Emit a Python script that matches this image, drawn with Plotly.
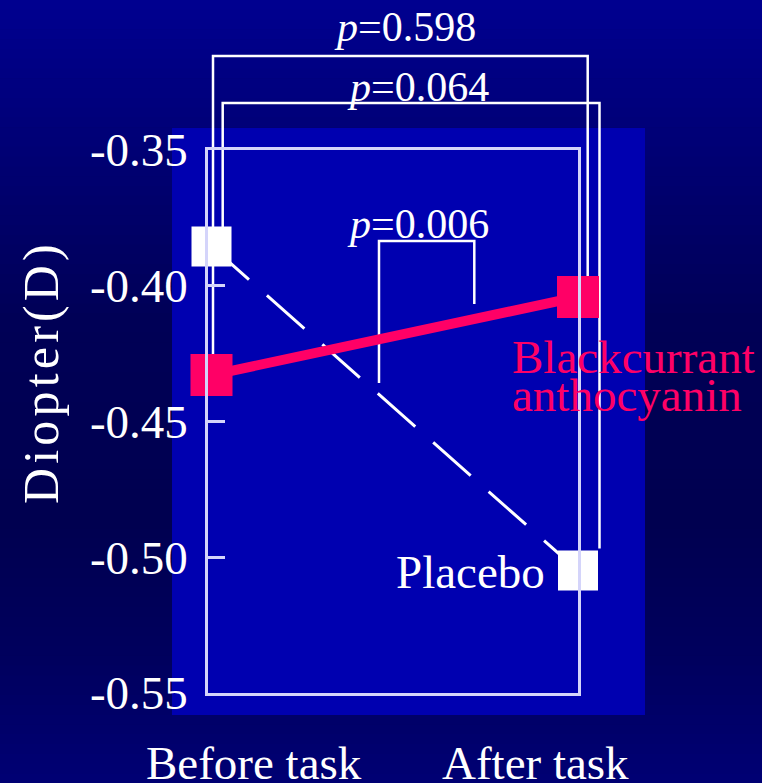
import plotly.graph_objects as go

# ---- data ----
categories = ["Before task", "After task"]
placebo = [-0.3855, -0.5049]
blackcurrant = [-0.4329, -0.4041]
y_tick_vals = [-0.55, -0.50, -0.45, -0.40, -0.35]
y_tick_text = ["-0.55", "-0.50", "-0.45", "-0.40", "-0.35"]
p_labels = ["0.598", "0.064", "0.006"]

W, H = 762, 783
L, R, T, B = 208, 578, 150, 693          # frame in pixels
X0, X1 = 211.5, 578.0                     # pixel centres of the two time points
s = X1 - X0
xr = [(L - X0) / s, (R - X0) / s]
FONT = "Liberation Serif, Times New Roman, serif"
PINK = "#FF0066"
FRAME = "#D4D4FA"


def px(x):
    return x / W


def py(y):
    return 1 - y / H


def ypix(v):
    return T + (-0.35 - v) / 0.20 * (B - T)


xs = [0, 1]
fig = go.Figure()
fig.add_trace(go.Scatter(
    x=xs, y=placebo, mode="lines+markers",
    line=dict(color="white", width=3, dash="50px,24px"),
    marker=dict(symbol="square", size=40, color="white"),
    cliponaxis=False, hoverinfo="skip"))
fig.add_trace(go.Scatter(
    x=xs, y=blackcurrant, mode="lines+markers",
    line=dict(color=PINK, width=10),
    marker=dict(symbol="square", size=42, color=PINK),
    cliponaxis=False, hoverinfo="skip"))

shapes = []
# background vertical gradient
stops = [(0, (0, 0, 0x90)), (150, (0, 0, 0x74)), (320, (0, 0, 0x56)),
         (520, (0, 0, 0x50)), (660, (0, 0, 0x5E)), (783, (0, 0, 0x74))]
n = 80
for i in range(n):
    y0 = H * i / n
    y1 = H * (i + 1) / n
    ym = (y0 + y1) / 2
    for j in range(len(stops) - 1):
        a, ca = stops[j]
        b, cb = stops[j + 1]
        if a <= ym <= b:
            t = (ym - a) / (b - a)
            c = tuple(int(round(ca[k] + (cb[k] - ca[k]) * t)) for k in range(3))
            break
    shapes.append(dict(type="rect", xref="paper", yref="paper", layer="below",
                       x0=0, x1=1, y0=py(y1 + 0.5), y1=py(y0),
                       line=dict(width=0), fillcolor="rgb(%d,%d,%d)" % c))
# inner blue panel
shapes.append(dict(type="rect", xref="paper", yref="paper", layer="below",
                   x0=px(172), x1=px(645), y0=py(715), y1=py(128),
                   line=dict(width=0), fillcolor="#0000B0"))


def bracket(xa, ya, ytop, xb, yb):
    path = "M %f,%f L %f,%f L %f,%f L %f,%f" % (
        px(xa), py(ya), px(xa), py(ytop), px(xb), py(ytop), px(xb), py(yb))
    return dict(type="path", xref="paper", yref="paper", layer="below", path=path,
                line=dict(color="white", width=2.5))


shapes.append(bracket(213, ypix(blackcurrant[0]) - 20, 56, 587.7, ypix(blackcurrant[1]) - 20))
shapes.append(bracket(222.7, ypix(placebo[0]) - 18, 103, 599.5, ypix(placebo[1]) - 22))
shapes.append(bracket(379, 383, 241, 474.3, 304))

annotations = []


def text(x, y, s_, size, color="white", xanchor="center", textangle=0):
    annotations.append(dict(xref="paper", yref="paper", x=px(x), y=py(y), text=s_,
                            showarrow=False, xanchor=xanchor, yanchor="middle",
                            textangle=textangle,
                            font=dict(family=FONT, size=size, color=color)))


text(405, 27, "<i>p</i>=" + p_labels[0], 42)
text(418, 87, "<i>p</i>=" + p_labels[1], 42)
text(418, 224, "<i>p</i>=" + p_labels[2], 42)
text(510, 357, "Blackcurrant", 47, PINK, "left")
text(510, 395, "anthocyanin", 47, PINK, "left")
text(547, 572, "Placebo", 47, "white", "right")
text(253.5, 763, categories[0], 47)
text(535, 763, categories[1], 47)
text(41, 374, "\u200a".join("Diopter(D)"), 50, "white", "center", -90)

fig.update_layout(
    width=W, height=H, margin=dict(l=0, r=0, t=0, b=0, autoexpand=False),
    paper_bgcolor="#000060", plot_bgcolor="rgba(0,0,0,0)",
    showlegend=False, shapes=shapes, annotations=annotations,
    xaxis=dict(domain=[px(L), px(R)], range=xr, showgrid=False, zeroline=False,
               showticklabels=False, ticks="", showline=True, mirror=True,
               linecolor=FRAME, linewidth=2.5, fixedrange=True),
    yaxis=dict(domain=[py(B), py(T)], range=[-0.55, -0.35], showgrid=False,
               zeroline=False, tickvals=y_tick_vals, ticktext=y_tick_text,
               ticks="inside", ticklen=17, tickwidth=2.5, tickcolor=FRAME,
               tickfont=dict(family=FONT, size=47, color="white"),
               ticklabelstandoff=8,
               showline=True, mirror=True, linecolor=FRAME, linewidth=2.5,
               fixedrange=True),
)

fig.write_html("out.html")
